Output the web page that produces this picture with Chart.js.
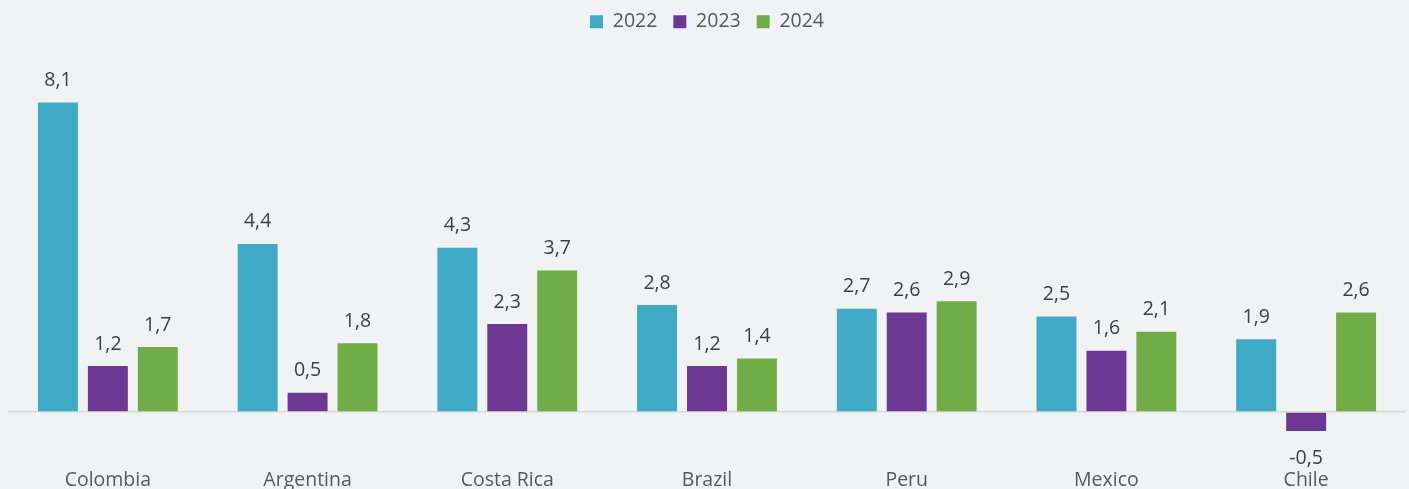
<!DOCTYPE html>
<html>
<head>
<meta charset="utf-8">
<script src="https://cdn.jsdelivr.net/npm/chart.js@4.4.1/dist/chart.umd.min.js"></script>
<style>
  html, body { margin: 0; padding: 0; background: #f1f2f4; }
  #wrap { width: 1409px; height: 489px; position: relative; }
</style>
</head>
<body>
<div id="wrap"><canvas id="c"></canvas></div>
<script>
const categories = ["Colombia", "Argentina", "Costa Rica", "Brazil", "Peru", "Mexico", "Chile"];
const seriesNames = ["2022", "2023", "2024"];
const values2022 = [8.1, 4.4, 4.3, 2.8, 2.7, 2.5, 1.9];
const values2023 = [1.2, 0.5, 2.3, 1.2, 2.6, 1.6, -0.5];
const values2024 = [1.7, 1.8, 3.7, 1.4, 2.9, 2.1, 2.6];
const colors = ["#3fabc6", "#6d3794", "#70ad47"];

const FONT = 'Open Sans';
const FS = 19.5;

const valueLabels = {
  id: 'valueLabels',
  afterDatasetsDraw(chart) {
    const ctx = chart.ctx;
    ctx.save();
    ctx.font = FS + 'px "' + FONT + '"';
    ctx.fillStyle = '#404040';
    ctx.textAlign = 'center';
    ctx.textBaseline = 'middle';
    chart.data.datasets.forEach((ds, i) => {
      const meta = chart.getDatasetMeta(i);
      meta.data.forEach((bar, j) => {
        const v = ds.data[j];
        const txt = v.toFixed(1).replace('.', ',');
        const y = v >= 0 ? bar.y - 22 : bar.y + 27;
        ctx.fillText(txt, bar.x, y);
      });
    });
    ctx.restore();
  }
};

const datasets = [values2022, values2023, values2024].map((d, i) => ({
  label: seriesNames[i],
  data: d,
  backgroundColor: colors[i],
  borderWidth: 0,
  categoryPercentage: 0.75,
  barPercentage: 0.8
}));

new Chart(document.getElementById('c'), {
  type: 'bar',
  data: { labels: categories, datasets },
  options: {
    responsive: true,
    maintainAspectRatio: false,
    animation: false,
    layout: { padding: { left: 8, right: 3, top: -4, bottom: 0 } },
    plugins: {
      legend: {
        position: 'top',
        labels: {
          font: { family: FONT, size: FS },
          color: '#595959',
          boxWidth: 13,
          boxHeight: 13,
          padding: 16
        }
      },
      tooltip: { enabled: false }
    },
    scales: {
      x: {
        grid: { display: false, drawTicks: false },
        border: { display: false },
        ticks: {
          font: { family: FONT, size: FS },
          color: '#595959',
          padding: 38,
          maxRotation: 0
        },
        afterFit(scale) { scale.height = 58; }
      },
      y: {
        min: -0.5,
        max: 9.7,
        border: { display: false },
        grid: {
          drawTicks: false,
          color: (c) => (c.tick && c.tick.value === 0 ? '#d9d9d9' : 'transparent'),
          lineWidth: 1.5
        },
        ticks: { display: false, stepSize: 0.5 }
      }
    }
  },
  plugins: [valueLabels]
});
</script>
</body>
</html>
